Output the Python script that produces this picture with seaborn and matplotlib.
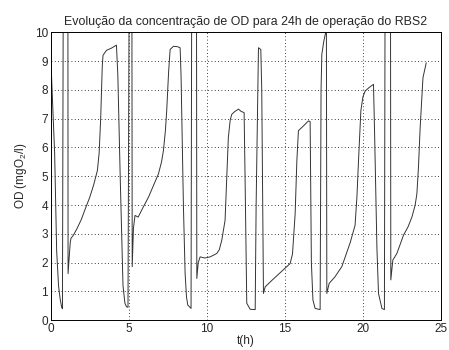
import matplotlib
matplotlib.use("Agg")
import matplotlib.pyplot as plt
import pandas as pd
import seaborn as sns

# OD readings over 24 h of RBS2 operation
t_h = [
    0.0, 0.1, 0.25, 0.38, 0.5, 0.6, 0.7, 0.75, 0.8, 1.1, 1.11, 1.25, 1.3, 1.45,
    1.7, 1.96, 2.2, 2.5, 2.75, 2.99, 3.1, 3.2, 3.3, 3.35, 3.57, 3.9, 4.21, 4.3,
    4.45, 4.63, 4.75, 4.85, 4.95, 5.02, 5.2, 5.22, 5.3, 5.4, 5.6, 5.9, 6.26,
    6.6, 6.9, 7.1, 7.22, 7.35, 7.43, 7.55, 7.65, 7.86, 8.1, 8.29, 8.35, 8.5,
    8.61, 8.7, 8.78, 8.99, 9.03, 9.34, 9.36, 9.45, 9.57, 9.88, 10.21, 10.4,
    10.64, 10.8, 10.96, 11.17, 11.28, 11.38, 11.5, 11.6, 11.8, 12.03, 12.2,
    12.39, 12.45, 12.56, 12.78, 13.1, 13.16, 13.31, 13.46, 13.52, 13.63, 13.74,
    14.2, 14.7, 15.1, 15.34, 15.49, 15.66, 15.77, 15.87, 16.2, 16.51, 16.62,
    16.7, 16.8, 16.94, 17.26, 17.32, 17.37, 17.5, 17.63, 17.66, 17.69, 17.84,
    18.2, 18.65, 19.0, 19.19, 19.5, 19.62, 19.72, 19.87, 20.0, 20.15, 20.4,
    20.68, 20.75, 20.9, 21.0, 21.22, 21.38, 21.42, 21.77, 21.79, 21.92, 22.18,
    22.6, 22.9, 23.14, 23.35, 23.46, 23.56, 23.67, 23.85, 24.06,
]
od = [
    9.2, 7.8, 5.8, 2.4, 1.2, 0.75, 0.45, 0.4, 11, 11, 1.62, 2.7, 2.85, 2.95,
    3.2, 3.5, 3.85, 4.27, 4.7, 5.2, 5.8, 7.0, 8.8, 9.2, 9.37, 9.45, 9.55, 8.5,
    5.0, 1.2, 0.6, 0.47, 0.45, 11, 11, 1.86, 3.2, 3.64, 3.58, 3.9, 4.27,
    4.7, 5.08, 5.5, 5.89, 6.6, 7.27, 8.6, 9.4, 9.51, 9.5, 9.46, 8.5, 4.0,
    1.62, 0.8, 0.53, 0.41, 11, 11, 1.45, 2.0, 2.2, 2.16, 2.2, 2.25,
    2.32, 2.45, 2.78, 3.47, 5.0, 6.35, 6.95, 7.15, 7.25, 7.33, 7.25,
    7.21, 5.0, 0.59, 0.38, 0.37, 4.0, 9.46, 9.4, 8.0, 0.93, 1.16,
    1.4, 1.65, 1.85, 1.97, 2.3, 3.7, 5.54, 6.58, 6.75, 6.92, 6.9,
    2.0, 0.7, 0.41, 0.37, 8.0, 9.23, 9.7, 10.03, 11, 0.93, 1.28,
    1.5, 1.86, 2.4, 2.7, 3.3, 4.3, 5.54, 7.27, 7.75, 7.96, 8.08,
    8.19, 6.5, 2.5, 0.93, 0.41, 0.37, 11, 11, 1.4, 2.09, 2.32,
    2.95, 3.25, 3.58, 4.0, 4.39, 5.3, 6.69, 8.42, 8.94,
]

x_ticks = [0, 5, 10, 15, 20, 25]
y_ticks = list(range(11))

sns.set_style("white")
plt.rcParams["font.family"] = ["Liberation Sans", "DejaVu Sans"]
plt.rcParams["mathtext.fontset"] = "custom"
plt.rcParams["mathtext.rm"] = "Liberation Sans"

df = pd.DataFrame({"t": t_h, "od": od})

fig = plt.figure(figsize=(4.49, 3.5), dpi=100)
ax = fig.add_axes([0.113, 0.085, 0.869, 0.823])
sns.lineplot(data=df, x="t", y="od", ax=ax, sort=False, estimator=None,
             color="#333333", linewidth=0.7)

ax.set_xlim(0, 25)
ax.set_ylim(0, 10)
ax.set_xticks(x_ticks)
ax.set_yticks(y_ticks)
ax.grid(True, linestyle=(0, (1, 3)), color="black", linewidth=0.6)
ax.tick_params(direction="in", labelsize=8.5, length=3, pad=2, color="black")
for s in ax.spines.values():
    s.set_color("black")
    s.set_linewidth(0.7)
ax.set_xlabel("t(h)", fontsize=8.5, labelpad=0)
ax.set_ylabel("OD (mgO$_2$/l)", fontsize=8.5, labelpad=4)
ax.set_title("Evolução da concentração de OD para 24h de operação do RBS2",
             fontsize=8.9, pad=5)

fig.savefig("out.png", dpi=100)
